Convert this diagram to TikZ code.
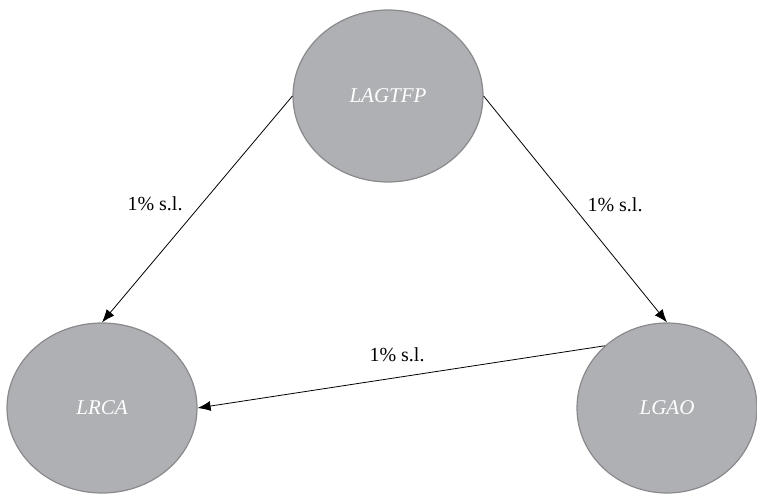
\documentclass[tikz,border=0pt]{standalone}
\usepackage{fontspec}
\setmainfont{Liberation Serif}
\usepackage{tikz}
\usetikzlibrary{arrows.meta,shapes,positioning}
\definecolor{ovalfill}{RGB}{175,176,180}
\definecolor{ovaldraw}{RGB}{138,138,141}
\tikzset{
    oval/.style={ellipse, draw=ovaldraw, fill=ovalfill, line width=1.2pt, inner sep=0pt,
        text=white, font=\fontsize{21}{24}\selectfont\itshape},
    level/.style={font=\fontsize{20}{23}\selectfont},
    link/.style={-{Latex[length=13pt,width=10pt]}, black, line width=0.8pt}
}
\begin{document}
\begin{tikzpicture}[x=1pt,y=-1pt]
    \useasboundingbox (0,0) rectangle (757,494);
    \node[oval, minimum width=190pt, minimum height=172pt] (lagtfp) at (388,96) {LAGTFP};
    \node[oval, minimum width=190pt, minimum height=170pt] (lrca) at (102,408) {LRCA};
    \node[oval, minimum width=180pt, minimum height=170pt] (lgao) at (667,408) {LGAO};
    % connectors
    \draw[link] (lagtfp.west) -- (lrca.north);
    \draw[link] (lagtfp.east) -- (lgao.north);
    \draw[link] (lgao.135) -- (lrca.east);
    % labels
    \node[level] (sl1) at (155,204) {1\% s.l.};
    \node[level] (sl2) at (615,205) {1\% s.l.};
    \node[level] (sl3) at (397,355) {1\% s.l.};
\end{tikzpicture}
\end{document}
